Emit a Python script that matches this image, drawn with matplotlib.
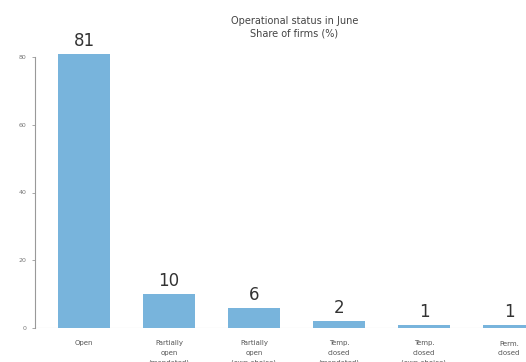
import matplotlib
matplotlib.use("Agg")
import matplotlib.pyplot as plt

categories = ["Open", "Partially\nopen\n(mandated)", "Partially\nopen\n(own choice)",
              "Temp.\nclosed\n(mandated)", "Temp.\nclosed\n(own choice)", "Perm.\nclosed"]
shares = [81, 10, 6, 2, 1, 1]
yticks = [0, 20, 40, 60, 80]

fig = plt.figure(figsize=(5.26, 3.62), dpi=100)
ax = fig.add_axes([35 / 526, 34 / 362, 491 / 526, 271 / 362])

x = list(range(len(categories)))
bars = ax.bar(x, shares, width=0.61, color="#78b4dc", clip_on=False, zorder=2)
for xi, v in zip(x, shares):
    ax.text(xi, v + 1.2, f"{v}", ha="center", va="bottom", fontsize=12, color="#333333")

ax.axhline(0, color="#d0d0d0", lw=0.8, zorder=1)
ax.set_xlim(-0.576, 5.2)
ax.set_ylim(0, 80)
ax.set_yticks(yticks)
ax.set_yticklabels([str(t) for t in yticks], fontsize=4.5, color="#777777")
ax.set_xticks(x)
ax.set_xticklabels(categories, fontsize=5, color="#555555", linespacing=1.75)
ax.tick_params(axis="x", length=0, pad=9)
ax.tick_params(axis="y", length=2, width=0.6, color="#999999", pad=4)

for s in ["top", "right", "bottom"]:
    ax.spines[s].set_visible(False)
ax.spines["left"].set_color("#999999")
ax.spines["left"].set_linewidth(0.8)

fig.text(0.56, 0.925, "Operational status in June\nShare of firms (%)", ha="center",
         va="center", fontsize=7, color="#444444", linespacing=1.25)

fig.savefig("out.png", dpi=100)
